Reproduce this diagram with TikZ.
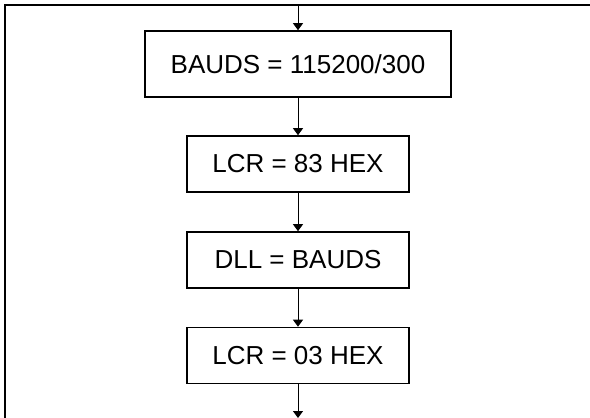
\documentclass[tikz,border=0pt]{standalone}
\usepackage{fontspec}
\setmainfont{Liberation Sans}
\usetikzlibrary{arrows.meta}

\begin{document}
\begin{tikzpicture}[
    x=0.5pt, y=-0.5pt,
    reg/.style={rectangle, draw, line width=0.8pt, minimum width=111pt, minimum height=28pt, font=\fontsize{13}{15}\selectfont},
    >={Triangle[width=5pt,length=3.5pt]}
]
    \useasboundingbox (0,0) rectangle (590,418);

    % Frame
    \draw[line width=1pt] (590,5) -- (5,5) -- (5,418);

    % Registers
    \node[reg, minimum width=153pt, minimum height=33pt] (bauds) at (298,64) {BAUDS = 115200/300};
    \node[reg] (lcr1) at (298,164) {LCR = 83 HEX};
    \node[reg] (dll) at (298,260) {DLL = BAUDS};
    \node[reg] (lcr2) at (298,355.5) {LCR = 03 HEX};

    % Flow
    \coordinate (in) at (298,5);
    \coordinate (out) at (298,418);
    \draw[->, line width=0.5pt] (in) -- (bauds);
    \draw[->, line width=0.5pt] (bauds) -- (lcr1);
    \draw[->, line width=0.5pt] (lcr1) -- (dll);
    \draw[->, line width=0.5pt] (dll) -- (lcr2);
    \draw[->, line width=0.5pt] (lcr2) -- (out);
\end{tikzpicture}
\end{document}
